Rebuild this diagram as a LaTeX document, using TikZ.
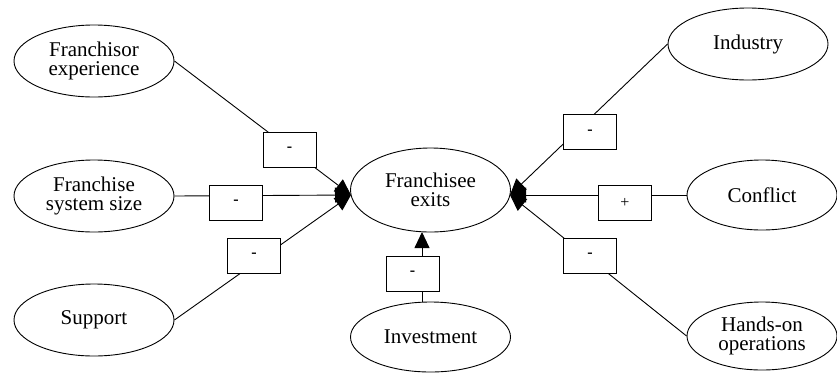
\documentclass[tikz,border=0pt]{standalone}
\usepackage{fontspec}
\setmainfont{Liberation Serif}
\newfontfamily\diagserif{Liberation Serif}
\usetikzlibrary{shapes.geometric,arrows.meta}
\begin{document}
\begin{tikzpicture}[x=1pt,y=-1pt,
  oval/.style={ellipse,draw,line width=0.9pt,inner sep=0pt,minimum width=160pt,minimum height=72pt,align=center,font=\diagserif\fontsize{21}{19.5}\selectfont},
  signbox/.style={draw,line width=1pt,fill=white,minimum width=53pt,minimum height=35pt,inner sep=0pt,font=\diagserif\fontsize{16}{16}\selectfont},
  link/.style={line width=0.9pt,-{Triangle[length=16pt,width=15pt]}}]
\useasboundingbox (0,0) rectangle (837,373);
% ovals
\node[oval] (fe) at (94,61) {Franchisor\\experience};
\node[oval] (fss) at (94,196) {Franchise\\system size};
\node[oval] (sup) at (94,320) {Support};
\node[oval,minimum height=84pt] (fx) at (430.5,190) {Franchisee\\exits};
\node[oval,minimum height=70pt] (inv) at (430.5,337) {Investment};
\node[oval] (ind) at (748,44) {Industry};
\node[oval,minimum width=150pt,minimum height=70pt] (con) at (762,195) {Conflict};
\node[oval,minimum width=150pt,minimum height=68pt] (hand) at (762,336) {Hands-on\\operations};
% arrow targets
\coordinate (tipL) at (351,195);
\coordinate (tipR) at (510,195);
\coordinate (tipB) at (422,232);
% connectors
\draw[link] (fe.east) -- (tipL);
\draw[link] (fss.east) -- (tipL);
\draw[link] (sup.east) -- (tipL);
\draw[link] (ind.west) -- (tipR);
\draw[link] (con.west) -- (tipR);
\draw[link] (hand.west) -- (tipR);
\draw[link] (inv.north -| tipB) -- (tipB);
% sign boxes
\node[signbox] (bA) at (289.5,149.5) {\textbf{-}};
\node[signbox] (bB) at (236,202.5) {\textbf{-}};
\node[signbox] (bC) at (254,255.5) {\textbf{-}};
\node[signbox] (bD) at (590,132) {\textbf{-}};
\node[signbox] (bE) at (625,202.5) {+};
\node[signbox] (bF) at (590,255.5) {\textbf{-}};
\node[signbox] (bG) at (412.5,273.5) {\textbf{-}};
\end{tikzpicture}
\end{document}
